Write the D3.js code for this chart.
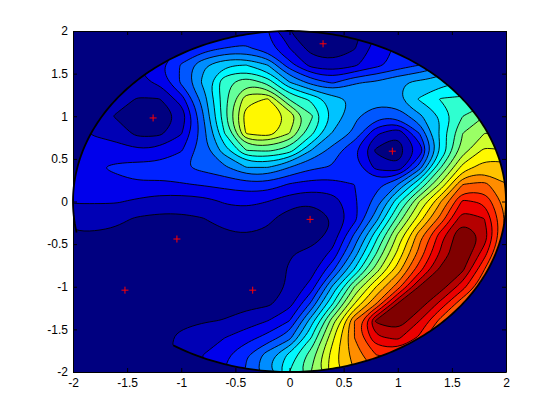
<!DOCTYPE html>
<html>
<head>
<meta charset="utf-8">
<style>
  html, body { margin: 0; padding: 0; background: #fff; }
  svg { display: block; }
  .axis text { font-family: "Liberation Sans", sans-serif; font-size: 12px; fill: #000; }
  .axis path, .axis line { stroke: #000; stroke-width: 1; }
</style>
<script src="https://cdnjs.cloudflare.com/ajax/libs/d3/7.8.5/d3.min.js"></script>
</head>
<body>
<svg id="chart" width="560" height="419"></svg>
<script>
// values, at x = -2..2 and y = 2..-2 in steps of 0.2
const gridX = [-2, -1.8, -1.6, -1.4, -1.2, -1, -0.8, -0.6, -0.4, -0.2, 0, 0.2, 0.4, 0.6, 0.8, 1, 1.2, 1.4, 1.6, 1.8, 2];
const gridY = [2, 1.8, 1.6, 1.4, 1.2, 1, 0.8, 0.6, 0.4, 0.2, 0, -0.2, -0.4, -0.6, -0.8, -1, -1.2, -1.4, -1.6, -1.8, -2];
const gridRows = [
  [2, 2, 2, 2, 2.5, 3, 3.5, 3.8, 3.6, 3, 1, 0.5, 0.4, 0.6, 2, 3, 3.5, 4, 5, 6, 6],
  [2, 2, 2, 2.2, 2.5, 3, 3.5, 4, 4.1, 3.4, 2, 0.6, 0.5, 0.9, 2.4, 3.2, 3.8, 4.5, 5.5, 6.5, 6.5],
  [1.8, 1.8, 1.8, 2, 2.9, 4.1, 5.8, 6.9, 7, 6, 3.4, 1.6, 1.2, 1.8, 2.7, 3.4, 4, 4.8, 6, 7, 7],
  [1.5, 1.6, 1.7, 1.8, 2.2, 4.2, 6.2, 8.7, 9.7, 8.6, 6, 4.6, 3.8, 4.9, 5.1, 5.9, 6.2, 6.6, 7, 7, 7],
  [1.5, 1.5, 1.5, 0.9, 0.95, 2.5, 5.4, 8.6, 11.6, 12.1, 8.9, 7.8, 6.5, 5.8, 5.4, 5.9, 7.1, 8.1, 8.2, 8.5, 8.5],
  [2, 1.5, 0.9, 0.5, 0.5, 1.15, 4.9, 8.7, 12.6, 12.95, 11.8, 9.2, 6.8, 5.2, 4.3, 4.2, 5.8, 7, 9, 10, 10],
  [2.3, 1.9, 1.6, 0.7, 0.75, 1.9, 4.5, 8, 12.1, 12.6, 11, 8.3, 5.9, 4.8, 2.2, 1.1, 4, 7.5, 10, 11, 11],
  [2.6, 2.4, 2.4, 2.1, 2.3, 2.9, 4.6, 6.5, 9, 9.2, 8.5, 6, 4.6, 3, 0.8, 0.4, 2.2, 7, 10.5, 12.2, 12],
  [2.7, 2.9, 3.2, 3.4, 3.4, 3.9, 4.3, 4.8, 6, 6, 5, 4.2, 3.9, 3.5, 1.7, 1.1, 4.5, 9, 12.4, 13.5, 13.5],
  [2.3, 2.4, 2.7, 2.9, 2.85, 2.9, 3.1, 3.3, 3.6, 3.6, 2.9, 2.6, 2.6, 3, 3.6, 5, 8, 11.3, 15, 15.3, 14],
  [2.1, 2.1, 2.1, 1.8, 1.5, 1.5, 1.6, 2.1, 2.2, 2, 1.4, 1.1, 1.5, 2.8, 4.4, 7.6, 11, 14, 17.2, 16.8, 14.5],
  [1.3, 1.3, 1.2, 0.9, 0.8, 0.8, 0.97, 1.4, 1.6, 1.2, 0.5, 0.2, 1, 2.6, 5.6, 9.3, 12.5, 15.4, 18.6, 18, 14.8],
  [0.9, 0.9, 0.8, 0.6, 0.5, 0.5, 0.5, 0.8, 0.95, 0.8, 0.6, 0.3, 1.4, 4.2, 7.6, 11.2, 14.6, 17.6, 20.2, 18.7, 14.5],
  [0.5, 0.45, 0.4, 0.4, 0.4, 0.4, 0.4, 0.4, 0.4, 0.5, 0.9, 1.3, 2.2, 5.4, 8.9, 12.2, 15.3, 18.2, 20, 17.5, 14],
  [0.4, 0.4, 0.4, 0.4, 0.4, 0.4, 0.4, 0.4, 0.4, 0.5, 1.1, 1.5, 3.8, 7.1, 10.5, 13.5, 16.6, 19.3, 19.2, 16, 13],
  [0.4, 0.4, 0.4, 0.4, 0.4, 0.4, 0.4, 0.4, 0.5, 0.6, 1.1, 2.4, 6.2, 10, 13, 15.5, 19.1, 19.5, 17.4, 15, 12],
  [0.4, 0.4, 0.4, 0.4, 0.4, 0.4, 0.5, 0.6, 0.7, 0.8, 1.6, 4.2, 8, 12, 15, 19.1, 19.6, 17.6, 15.2, 13, 10],
  [0.4, 0.4, 0.4, 0.4, 0.4, 0.7, 0.9, 1.05, 1.5, 2, 3, 6.5, 10.6, 15, 19.2, 19.8, 18, 15.6, 13, 10, 8],
  [0.4, 0.4, 0.4, 0.4, 0.6, 1.3, 1.8, 2, 2.6, 3.4, 4.7, 8, 11.8, 15, 17.8, 18.2, 16.8, 14, 11.5, 9, 7],
  [0.4, 0.4, 0.4, 0.4, 0.5, 1.3, 2, 2.8, 3.9, 5.5, 7.3, 9.5, 12.5, 14.5, 16, 16.3, 15, 12.5, 10, 8, 6],
  [0.4, 0.4, 0.4, 0.4, 0.5, 1.2, 2, 3, 4.1, 5.9, 8, 10, 12.6, 14, 15, 15, 14, 12, 9, 7, 5]
];
const levels = [1, 2, 3, 4, 5, 6, 7, 8, 9, 10, 11, 12, 13, 14, 15, 16, 17, 18, 19];
const pointsX = [-1.26, 0.31, 0.95, 0.19, -1.04, -1.52, -0.34];
const pointsY = [0.98, 1.85, 0.59, -0.21, -0.44, -1.04, -1.04];
const xTicks = [-2, -1.5, -1, -0.5, 0, 0.5, 1, 1.5, 2];
const yTicks = [-2, -1.5, -1, -0.5, 0, 0.5, 1, 1.5, 2];

const discRadius = 2;
const edgeFrom = 190.5, edgeTo = -123; // degrees, lower left part of the rim has no line

const svg = d3.select("#chart");
const plotLeft = 73, plotRight = 506, plotTop = 31, plotBottom = 372;

const x = d3.scaleLinear().domain([-2, 2]).range([plotLeft, plotRight]);
const y = d3.scaleLinear().domain([-2, 2]).range([plotBottom, plotTop]);

// jet, one colour per band
const jet = d3.scaleLinear()
  .domain([0, 1 / 8, 3 / 8, 5 / 8, 7 / 8, 1])
  .range(["#000080", "#0000ff", "#00ffff", "#ffff00", "#ff0000", "#800000"])
  .clamp(true);
const color = d => jet(d / levels[levels.length - 1]);

svg.append("rect")
  .attr("x", plotLeft).attr("y", plotTop)
  .attr("width", plotRight - plotLeft).attr("height", plotBottom - plotTop)
  .attr("fill", color(0));

svg.append("clipPath").attr("id", "disc")
  .append("ellipse")
  .attr("cx", x(0)).attr("cy", y(0))
  .attr("rx", x(discRadius) - x(0)).attr("ry", y(0) - y(discRadius));

const contours = d3.contours()
  .size([gridX.length, gridY.length])
  .thresholds(levels)(gridRows.flat());

// contour coordinates have grid nodes at i + 0.5
const toX = d3.scaleLinear().domain([0.5, gridX.length - 0.5]).range([x(gridX[0]), x(gridX[gridX.length - 1])]);
const toY = d3.scaleLinear().domain([0.5, gridY.length - 0.5]).range([y(gridY[0]), y(gridY[gridY.length - 1])]);

const ringLine = d3.line()
  .x(d => toX(d[0]))
  .y(d => toY(d[1]))
  .curve(d3.curveBasisClosed);

function contourPath(c) {
  let path = "";
  c.coordinates.forEach(function(polygon) {
    polygon.forEach(function(ring) {
      path += ringLine(ring.slice(0, -1));
    });
  });
  return path;
}

svg.append("g").attr("clip-path", "url(#disc)")
  .selectAll("path")
  .data(contours)
  .enter().append("path")
  .attr("d", contourPath)
  .attr("fill", d => color(d.value))
  .attr("fill-rule", "evenodd")
  .attr("stroke", "#000")
  .attr("stroke-width", 0.9);

// rim of the disc, where the contours pile up
const rim = d3.line()
  .x(d => x(discRadius * Math.cos(d * Math.PI / 180)))
  .y(d => y(discRadius * Math.sin(d * Math.PI / 180)));

svg.append("path")
  .attr("d", rim(d3.range(edgeFrom, edgeTo, -1)))
  .attr("fill", "none")
  .attr("stroke", "#000")
  .attr("stroke-width", 1.8);

const pointIdx = d3.range(pointsX.length);
svg.append("g").selectAll("path")
  .data(pointIdx)
  .enter().append("path")
  .attr("d", i => "M" + (x(pointsX[i]) - 3.5) + "," + y(pointsY[i]) + "h7M" + x(pointsX[i]) + "," + (y(pointsY[i]) - 3.5) + "v7")
  .attr("stroke", "#ff0000")
  .attr("stroke-width", 1)
  .attr("fill", "none");

// matlab style box, ticks pointing in
const tickFmt = d => String(d);
svg.append("g").attr("class", "axis")
  .attr("transform", "translate(0," + plotBottom + ")")
  .call(d3.axisBottom(x).tickValues(xTicks).tickFormat(tickFmt).tickSizeInner(-4).tickSizeOuter(0).tickPadding(6));
svg.append("g").attr("class", "axis")
  .attr("transform", "translate(0," + plotTop + ")")
  .call(d3.axisTop(x).tickValues(xTicks).tickFormat("").tickSizeInner(-4).tickSizeOuter(0));
svg.append("g").attr("class", "axis")
  .attr("transform", "translate(" + plotLeft + ",0)")
  .call(d3.axisLeft(y).tickValues(yTicks).tickFormat(tickFmt).tickSizeInner(-4).tickSizeOuter(0).tickPadding(5));
svg.append("g").attr("class", "axis")
  .attr("transform", "translate(" + plotRight + ",0)")
  .call(d3.axisRight(y).tickValues(yTicks).tickFormat("").tickSizeInner(-4).tickSizeOuter(0));
</script>
</body>
</html>
